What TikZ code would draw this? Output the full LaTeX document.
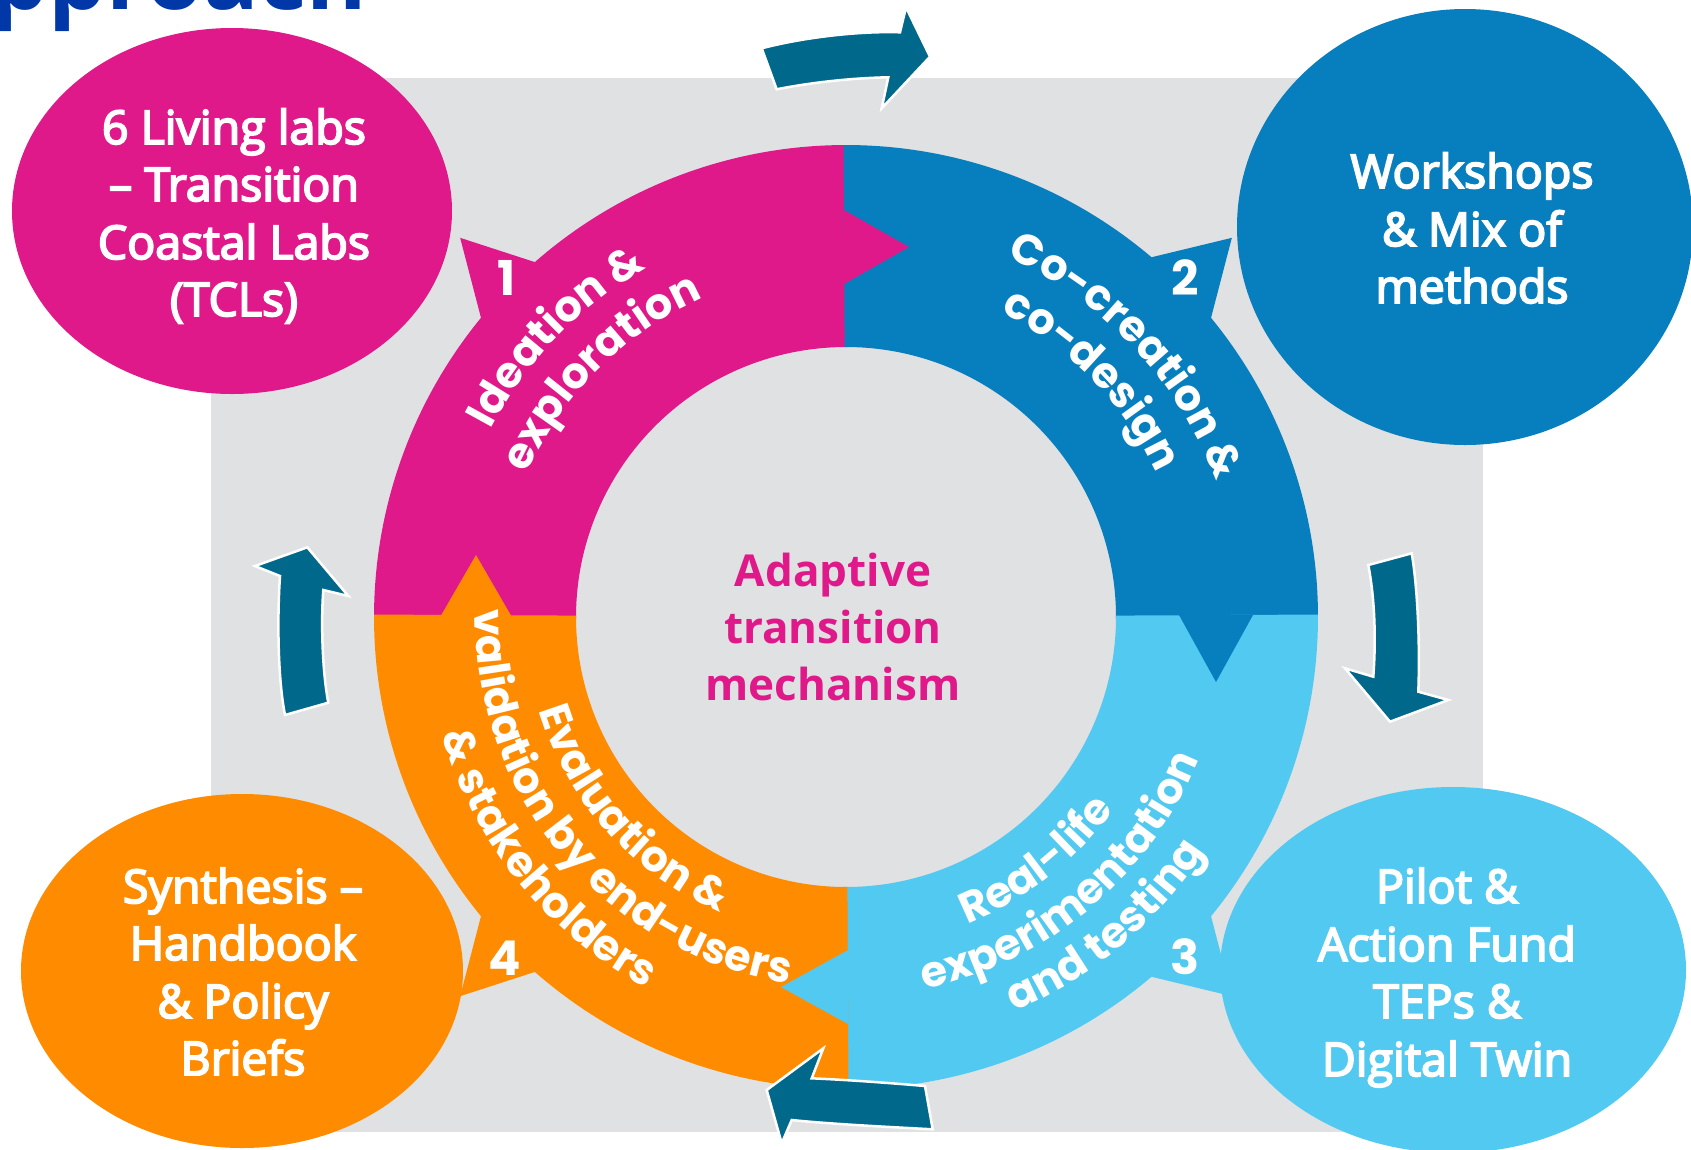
\documentclass[tikz,border=0pt]{standalone}
\usepackage{fontspec}
\setmainfont{Open Sans}
\newfontfamily\boxfont{Open Sans}[FakeBold=4]
\newfontfamily\ringfont{Poppins}
\usetikzlibrary{shapes.geometric,decorations.text}
\definecolor{pinkc}{HTML}{E0198A}
\definecolor{bluec}{HTML}{077EBD}
\definecolor{lbluec}{HTML}{52C9F0}
\definecolor{orangec}{HTML}{FF8C00}
\definecolor{tealc}{HTML}{00688A}
\definecolor{grayc}{HTML}{E0E1E3}
\definecolor{titlec}{HTML}{0038A8}
\newcommand\ringtxt{\ringfont\bfseries\fontsize{43}{43}\selectfont}
\newcommand\ringRo{472pt}
\newcommand\ringRi{270pt}
\newcommand\ringseg[3]{\fill[#1] (#2:\ringRo) arc[start angle=#2,end angle=#3,radius=\ringRo] -- (#3:\ringRi) arc[start angle=#3,end angle=#2,radius=\ringRi] -- cycle;}
\begin{document}
\begin{tikzpicture}[x=1pt,y=1pt,
  bubble/.style={ellipse, inner sep=0pt, draw=none},
  bubbletext/.style={anchor=base, inner sep=0pt, text=white, font=\boxfont\fontsize{46.5}{56}\selectfont},
  centretext/.style={anchor=base, inner sep=0pt, text=pinkc, font=\bfseries\fontsize{44}{56}\selectfont},
  numtext/.style={inner sep=0pt, text=white, font=\ringfont\bfseries\fontsize{48}{48}\selectfont},
  looparrow/.style={fill=tealc, draw=white, line width=2.5pt, line join=miter},
  ringlabel/.style={decorate, decoration={text along path, text align=center, text color=white}}
]
\useasboundingbox (0,0) rectangle (1691,-1149);
\fill[white] (0,0) rectangle (1691,-1149);
\fill[grayc] (211,-78) rectangle (1483,-1132);

% title (cut off at the top)
\node[anchor=base east, inner sep=0pt, text=titlec, font=\bfseries\fontsize{92}{92}\selectfont] (title) at (367,-9) {Approach};

% ring
\begin{scope}[shift={(846,-617)}]
  \ringseg{pinkc}{89.7}{180.3}
  \ringseg{bluec}{-0.3}{90.3}
  \ringseg{lbluec}{-90.3}{0.3}
  \ringseg{orangec}{179.7}{270.3}
  % outer spikes
  \fill[pinkc] (130.8:466pt) -- (135.5:541pt) -- (141.2:466pt) -- cycle;
  \fill[bluec] (38.8:466pt) -- (44.5:541pt) -- (50.2:466pt) -- cycle;
  \fill[lbluec] (-38.8:466pt) -- (-44.5:541pt) -- (-50.2:466pt) -- cycle;
  \fill[orangec] (-130.8:466pt) -- (-135.5:541pt) -- (-141.2:466pt) -- cycle;
  % inner arrow tips between segments
  \fill[pinkc] (-2,333) -- (63,370) -- (-2,407) -- cycle;
  \fill[bluec] (333,2) -- (370,-65) -- (407,2) -- cycle;
  \fill[lbluec] (2,-333) -- (-65,-370) -- (2,-407) -- cycle;
  \fill[orangec] (-333,-2) -- (-370,62) -- (-407,-2) -- cycle;
  % numbers
  \node[numtext] (n1) at (135:480pt) {1};
  \node[numtext] (n2) at (45:480pt) {2};
  \node[numtext] (n3) at (-45:480pt) {3};
  \node[numtext] (n4) at (-135:482pt) {4};
  % curved labels
  \path[ringlabel, decoration={text={|\ringtxt|Ideation {\&}}}] (178:402pt) arc[start angle=178,end angle=94,radius=402pt];
  \path[ringlabel, decoration={text={|\ringtxt|exploration}}] (176:350pt) arc[start angle=176,end angle=94,radius=350pt];
  \path[ringlabel, decoration={text={|\ringtxt|Co-creation {\&}}}] (86:394pt) arc[start angle=86,end angle=0,radius=394pt];
  \path[ringlabel, decoration={text={|\ringtxt|co-design}}] (88:342pt) arc[start angle=88,end angle=0,radius=342pt];
  \path[ringlabel, decoration={text={|\ringtxt|Real-life}}] (-96:330pt) arc[start angle=-96,end angle=-8,radius=330pt];
  \path[ringlabel, decoration={text={|\ringtxt|experimentation}}] (-95:380pt) arc[start angle=-95,end angle=-5,radius=380pt];
  \path[ringlabel, decoration={text={|\ringtxt|and testing}}] (-95:429pt) arc[start angle=-95,end angle=-5,radius=429pt];
  \path[ringlabel, decoration={text={|\ringtxt|Evaluation {\&}}}] (-188:321pt) arc[start angle=-188,end angle=-88,radius=321pt];
  \path[ringlabel, decoration={text={|\ringtxt|validation by end-users}}] (-191:371pt) arc[start angle=-191,end angle=-89,radius=371pt];
  \path[ringlabel, decoration={text={|\ringtxt|{\&} stakeholders}}] (-190:421pt) arc[start angle=-190,end angle=-92,radius=421pt];
\end{scope}

% centre text
\node[centretext] (c1) at (833,-586) {Adaptive};
\node[centretext] (c2) at (833,-643) {transition};
\node[centretext] (c3) at (833,-700) {mechanism};

% bubbles
\node[bubble, fill=pinkc, minimum width=440pt, minimum height=366pt] (e1) at (232,-211) {};
\node[bubble, fill=bluec, minimum width=456pt, minimum height=436pt] (e2) at (1465,-227) {};
\node[bubble, fill=lbluec, minimum width=466pt, minimum height=366pt] (e3) at (1453,-970) {};
\node[bubble, fill=orangec, minimum width=442pt, minimum height=354pt] (e4) at (242,-971) {};

\node[bubbletext] (t11) at (234,-144) {6 Living labs};
\node[bubbletext] (t12) at (234,-201) {– Transition};
\node[bubbletext] (t13) at (234,-259) {Coastal Labs};
\node[bubbletext] (t14) at (234,-316) {(TCLs)};

\node[bubbletext] (t21) at (1472,-188) {Workshops};
\node[bubbletext] (t22) at (1472,-246) {\& Mix of};
\node[bubbletext] (t23) at (1472,-303) {methods};

\node[bubbletext] (t31) at (1447,-903) {Pilot \&};
\node[bubbletext] (t32) at (1447,-961) {Action Fund};
\node[bubbletext] (t33) at (1447,-1018) {TEPs \&};
\node[bubbletext] (t34) at (1447,-1076) {Digital Twin};

\node[bubbletext] (t41) at (243,-903) {Synthesis –};
\node[bubbletext] (t42) at (243,-960) {Handbook};
\node[bubbletext] (t43) at (243,-1018) {\& Policy};
\node[bubbletext] (t44) at (243,-1075) {Briefs};

% loop arrows
\filldraw[looparrow] (761.7,-48.3) .. controls (805,-37) and (860,-31) .. (900,-32.3) -- (906,-7.3) -- (930,-56.7) -- (881.7,-108.3) -- (888.3,-77.3) .. controls (850,-78) and (808,-83) .. (776.7,-89.3) -- cycle;
\filldraw[looparrow] (1368.3,-565) -- (1411.7,-553.3) .. controls (1418,-590) and (1420,-650) .. (1418.3,-691.7) -- (1448.3,-700) -- (1390,-721.7) -- (1345,-668.3) -- (1373.3,-676.7) .. controls (1376,-640) and (1375,-600) .. (1368.3,-565) -- cycle;
\filldraw[looparrow] (925,-1086) -- (932.7,-1129.3) .. controls (890,-1127) and (830,-1124) .. (791.7,-1120) -- (781.7,-1143.3) -- (766.7,-1090) -- (823.3,-1048.3) -- (811.7,-1078.3) .. controls (850,-1080) and (890,-1083) .. (925,-1086) -- cycle;
\filldraw[looparrow] (285,-715) -- (328.3,-702.7) .. controls (322,-670) and (321,-620) .. (323.3,-590) -- (348.3,-596) -- (307.3,-547.3) -- (255,-566) -- (280,-576) .. controls (277,-620) and (278,-680) .. (285,-715) -- cycle;
\end{tikzpicture}
\end{document}
